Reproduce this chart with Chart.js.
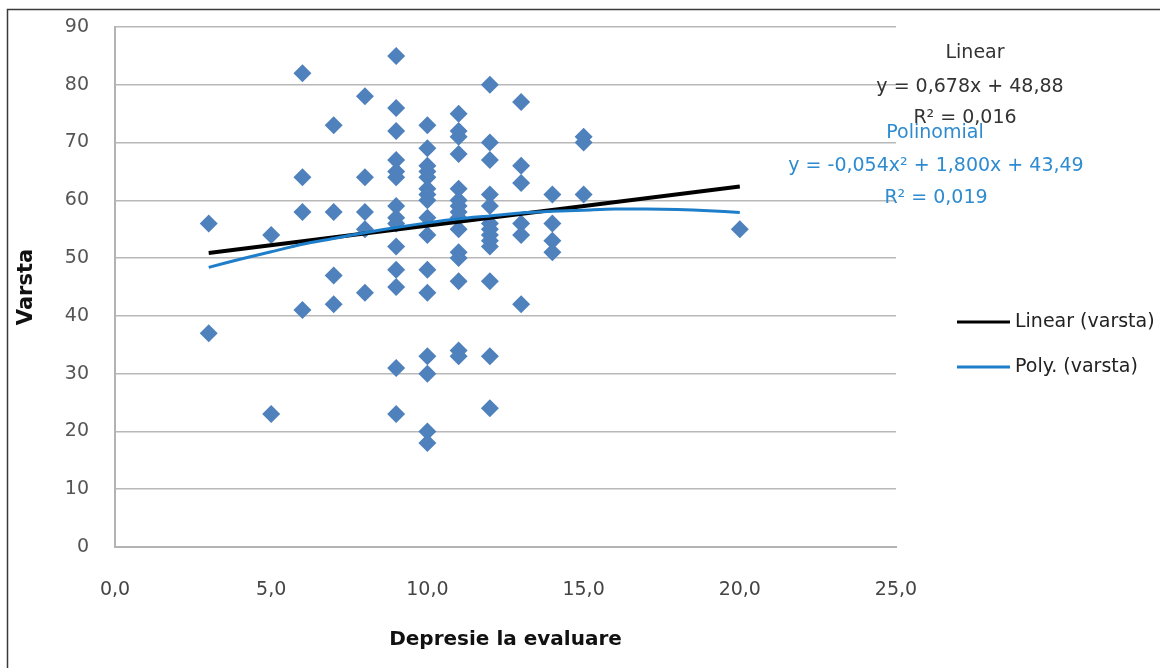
<!DOCTYPE html>
<html>
<head>
<meta charset="utf-8">
<script src="https://cdn.jsdelivr.net/npm/chart.js@4"></script>
<style>
  html, body { margin: 0; padding: 0; background: #fff; }
  #wrap { position: absolute; left: 0; top: 0; width: 1160px; height: 668px; }
</style>
</head>
<body>
<div id="wrap"><canvas id="myChart" width="1160" height="668"></canvas></div>
<script>
// scatter data: depression score (x) and age (y), one row per x value
var depresie = [3, 3,
  5, 5,
  6, 6, 6, 6,
  7, 7, 7, 7,
  8, 8, 8, 8, 8,
  9, 9, 9, 9, 9, 9, 9, 9, 9, 9, 9, 9, 9, 9,
  10, 10, 10, 10, 10, 10, 10, 10, 10, 10, 10, 10, 10, 10, 10, 10,
  11, 11, 11, 11, 11, 11, 11, 11, 11, 11, 11, 11, 11, 11, 11,
  12, 12, 12, 12, 12, 12, 12, 12, 12, 12, 12, 12, 12,
  13, 13, 13, 13, 13, 13,
  14, 14, 14, 14,
  15, 15, 15,
  20];
var varsta = [56, 37,
  54, 23,
  82, 64, 58, 41,
  73, 58, 47, 42,
  78, 64, 58, 55, 44,
  85, 76, 72, 67, 65, 64, 59, 57, 56, 52, 48, 45, 31, 23,
  73, 69, 66, 65, 64, 62, 61, 60, 57, 54, 48, 44, 33, 30, 20, 18,
  75, 72, 71, 68, 62, 60, 59, 58, 57, 55, 51, 50, 46, 34, 33,
  80, 70, 67, 61, 59, 56, 55, 54, 53, 52, 46, 33, 24,
  77, 66, 63, 56, 54, 42,
  61, 56, 53, 51,
  71, 70, 61,
  55];

// trend lines
var linearX = [3, 20];
var linearY = [50.9, 62.4];
var polyX = [3, 4, 5, 6, 7, 8, 9, 10, 11, 12, 13, 14, 15, 16, 17, 18, 19, 20];
var polyY = [48.4, 49.8, 51.1, 52.4, 53.4, 54.4, 55.3, 56.1, 56.8, 57.3, 57.8, 58.1, 58.3, 58.5, 58.5, 58.4, 58.2, 57.9];

var xTickLabels = ['0,0', '5,0', '10,0', '15,0', '20,0', '25,0'];

var pts = [];
for (var i = 0; i < depresie.length; i++) pts.push({x: depresie[i], y: varsta[i]});
var linPts = linearX.map(function (x, i) { return {x: x, y: linearY[i]}; });
var polyPts = polyX.map(function (x, i) { return {x: x, y: polyY[i]}; });

var BLUE_LINE = '#1f7ec9';
var FONT = '"DejaVu Sans", sans-serif';

var extras = {
  id: 'extras',
  afterDraw: function (chart) {
    var ctx = chart.ctx;
    ctx.save();
    // outer frame
    ctx.strokeStyle = '#3a3a3a';
    ctx.lineWidth = 1.5;
    ctx.strokeRect(7.5, 9.5, 1200, 700);

    // trendline labels
    ctx.textAlign = 'center';
    ctx.textBaseline = 'middle';
    ctx.font = '19px ' + FONT;
    ctx.fillStyle = '#333333';
    ctx.fillText('Linear', 975, 53);
    ctx.fillText('y = 0,678x + 48,88', 970, 87);
    ctx.fillText('R\u00b2 = 0,016', 965, 118);
    ctx.fillStyle = '#2e8bd0';
    ctx.fillText('Polinomial', 935, 133);
    ctx.fillText('y = -0,054x\u00b2 + 1,800x + 43,49', 936, 166);
    ctx.fillText('R\u00b2 = 0,019', 936, 198);

    // legend
    ctx.lineWidth = 3;
    ctx.strokeStyle = '#000';
    ctx.beginPath(); ctx.moveTo(957, 322); ctx.lineTo(1010, 322); ctx.stroke();
    ctx.strokeStyle = BLUE_LINE;
    ctx.beginPath(); ctx.moveTo(957, 367); ctx.lineTo(1010, 367); ctx.stroke();
    ctx.textAlign = 'left';
    ctx.font = '19px ' + FONT;
    ctx.fillStyle = '#222';
    ctx.fillText('Linear (varsta)', 1015, 322);
    ctx.fillText('Poly. (varsta)', 1015, 367);
    ctx.restore();
  }
};

var ctx = document.getElementById('myChart').getContext('2d');
var chart = new Chart(ctx, {
  type: 'scatter',
  data: {
    datasets: [{
      label: 'varsta',
      data: pts,
      order: 3,
      pointStyle: 'rectRot',
      pointRadius: 9,
      pointHoverRadius: 9,
      backgroundColor: '#4F81BD',
      borderWidth: 0
    }, {
      label: 'Linear (varsta)',
      type: 'line',
      data: linPts,
      order: 2,
      borderColor: '#000',
      borderWidth: 4,
      pointRadius: 0,
      fill: false
    }, {
      label: 'Poly. (varsta)',
      type: 'line',
      data: polyPts,
      order: 1,
      borderColor: BLUE_LINE,
      borderWidth: 3,
      pointRadius: 0,
      tension: 0.3,
      fill: false
    }]
  },
  options: {
    responsive: false,
    animation: false,
    layout: { padding: { left: 0, top: 27, right: 264, bottom: 0 } },
    plugins: { legend: { display: false }, tooltip: { enabled: false } },
    scales: {
      x: {
        type: 'linear',
        min: 0, max: 25,
        afterFit: function (s) { s.height = 121; },
        grid: { display: false, drawTicks: false },
        border: { display: true, color: '#b3b3b3', width: 2 },
        ticks: {
          stepSize: 5,
          padding: 32,
          color: '#444',
          font: { family: FONT, size: 19 },
          callback: function (v, i) { return xTickLabels[i]; }
        },
        title: {
          display: true,
          text: 'Depresie la evaluare',
          color: '#111',
          font: { family: FONT, size: 20, weight: 'bold' },
          padding: { top: 0, bottom: 16 }
        }
      },
      y: {
        min: 0, max: 90,
        afterFit: function (s) { s.width = 115; },
        grid: { color: '#b8b8b8', lineWidth: 1.5, drawTicks: true, tickLength: 23, tickColor: 'rgba(0,0,0,0)' },
        border: { display: true, color: '#b3b3b3', width: 2 },
        ticks: {
          stepSize: 10,
          padding: 3,
          color: '#555',
          font: { family: FONT, size: 19 }
        },
        title: {
          display: true,
          text: 'Varsta',
          color: '#111',
          font: { family: FONT, size: 21, weight: 'bold' },
          padding: { top: 14, bottom: 0 }
        }
      }
    }
  },
  plugins: [extras]
});
</script>
</body>
</html>
